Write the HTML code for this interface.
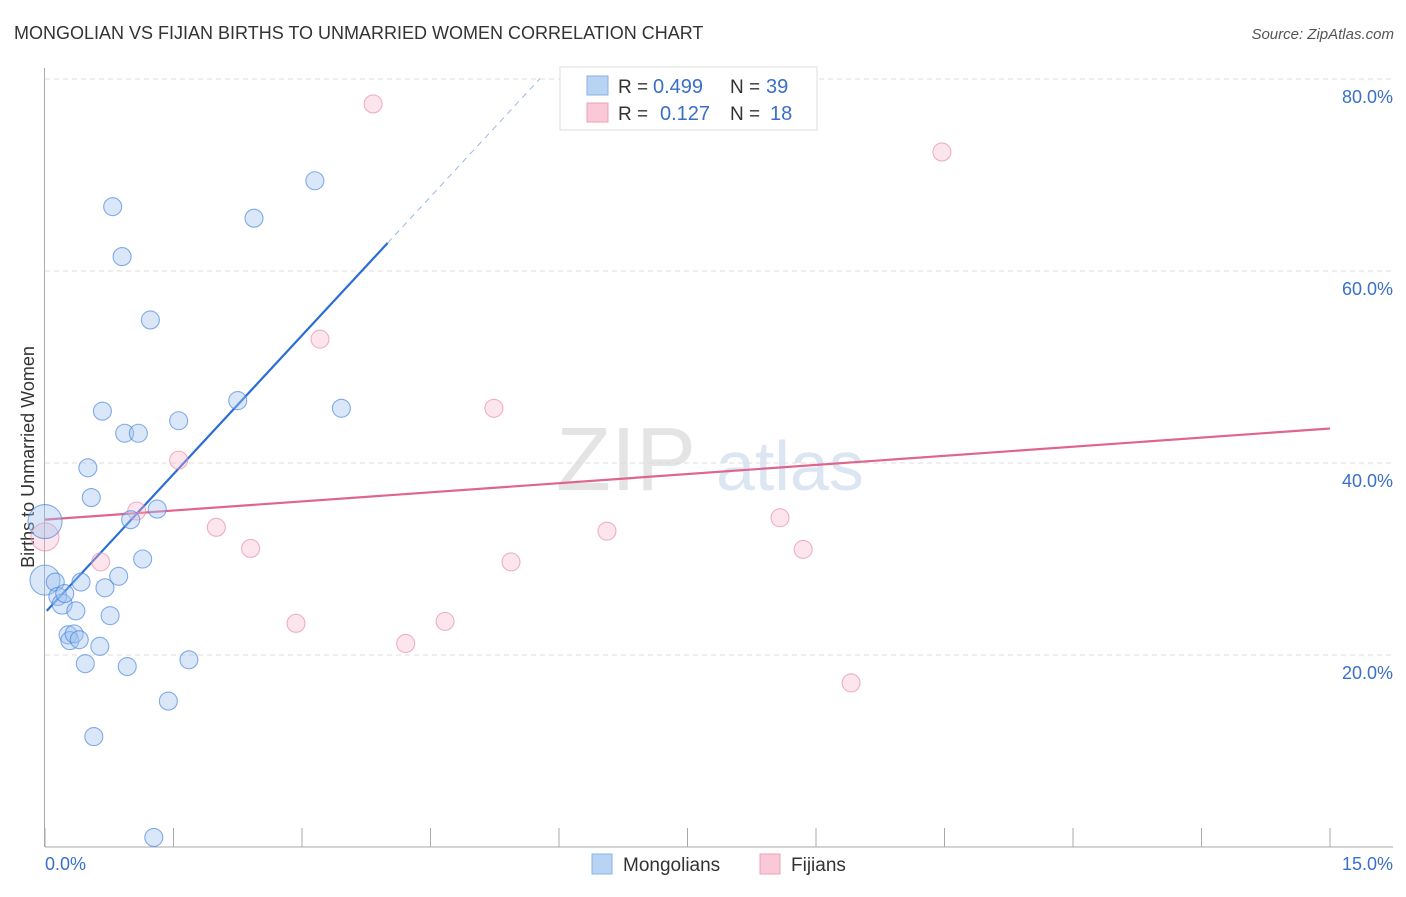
<!DOCTYPE html>
<html><head><meta charset="utf-8"><style>
body{margin:0;background:#fff;font-family:"Liberation Sans",sans-serif}
svg text{font-family:"Liberation Sans",sans-serif}
</style></head><body>
<svg width="1406" height="892">
<text x="14" y="39" font-size="18" fill="#333">MONGOLIAN VS FIJIAN BIRTHS TO UNMARRIED WOMEN CORRELATION CHART</text>
<text x="1394" y="39" font-size="15" fill="#555" font-style="italic" text-anchor="end">Source: ZipAtlas.com</text>
<text x="556" y="490" font-size="90" fill="#e4e4e4" font-family="Liberation Serif">ZIP</text>
<text x="716" y="490" font-size="70" fill="#dce6f3">atlas</text>
<g id="grid"></g>
<g id="axes"></g>
<text transform="translate(34,457) rotate(-90)" font-size="18" fill="#333" text-anchor="middle">Births to Unmarried Women</text>
<g id="trend"></g>
<g id="points"></g>
<g>
<rect x="560" y="67" width="257" height="63" fill="#fff" stroke="#ddd"/>
<rect x="587" y="76" width="21" height="19" fill="#b9d3f5" stroke="#8ab0e6"/>
<rect x="587" y="103" width="21" height="19" fill="#f9c9d7" stroke="#efa0b8"/>
<text x="618" y="93" font-size="19" fill="#333">R =</text>
<text x="653" y="93" font-size="20" fill="#3a6fc9">0.499</text>
<text x="730" y="93" font-size="19" fill="#333">N =</text>
<text x="766" y="93" font-size="20" fill="#3a6fc9">39</text>
<text x="618" y="120" font-size="19" fill="#333">R =</text>
<text x="660" y="120" font-size="20" fill="#3a6fc9">0.127</text>
<text x="730" y="120" font-size="19" fill="#333">N =</text>
<text x="770" y="120" font-size="20" fill="#3a6fc9">18</text>
</g>
<g>
<rect x="592" y="854" width="20" height="20" fill="#b9d3f5" stroke="#8ab0e6"/>
<text x="623" y="871" font-size="19" fill="#333">Mongolians</text>
<rect x="760" y="854" width="20" height="20" fill="#f9c9d7" stroke="#efa0b8"/>
<text x="791" y="871" font-size="19" fill="#333">Fijians</text>
</g>
<text x="45" y="870" font-size="18" fill="#3a6fc9">0.0%</text>
<text x="1393" y="870" font-size="18" fill="#3a6fc9" text-anchor="end">15.0%</text>
</svg>
<script>
const yTicks=[20,40,60,80];
const yTickLabels=["20.0%","40.0%","60.0%","80.0%"];
const xTicks=[0,1.5,3,4.5,6,7.5,9,10.5,12,13.5,15];
const blueX=[0,0,0.12,0.15,0.2,0.23,0.27,0.29,0.34,0.4,0.36,0.42,0.47,0.5,0.54,0.57,0.64,0.67,0.7,0.76,0.79,0.86,0.9,0.93,0.96,1.0,1.09,1.14,1.23,1.27,1.31,1.44,1.56,1.68,2.25,2.44,3.15,3.46];
const blueY=[27.8,33.9,27.6,26.1,25.3,26.4,22.1,21.5,22.2,21.6,24.6,27.6,19.1,39.5,36.4,11.5,20.9,45.4,27.0,24.1,66.7,28.2,61.5,43.1,18.8,34.1,43.1,30.0,54.9,1.0,35.2,15.2,44.4,19.5,46.5,65.5,69.4,45.7];
const blueR=[15,17,9,9,10,9,9,9,9,9,9,9,9,9,9,9,9,9,9,9,9,9,9,9,9,9,9,9,9,9,9,9,9,9,9,9,9,9];
const pinkX=[0,0.65,1.07,1.56,2.0,2.4,2.93,3.21,3.83,4.21,4.67,5.24,5.44,6.56,8.58,8.85,9.41,10.47];
const pinkY=[32.3,29.7,35.0,40.3,33.3,31.1,23.3,52.9,77.4,21.2,23.5,45.7,29.7,32.9,34.3,31.0,17.1,72.4];
const pinkR=[14,9,9,9,9,9,9,9,9,9,9,9,9,9,9,9,9,9];
const blueTrend=[24.4,9.63];
const pinkTrend=[34.1,0.633];
const NS="http://www.w3.org/2000/svg";
const X=v=>45+v/15*1285, Y=v=>847-v*9.6;
function mk(t,a,p){const e=document.createElementNS(NS,t);for(const k in a)e.setAttribute(k,a[k]);p.appendChild(e);return e;}
const grid=document.getElementById('grid'),axes=document.getElementById('axes'),trend=document.getElementById('trend'),pts=document.getElementById('points');
yTicks.forEach((t,i)=>{
 const l=mk('line',{x1:45,x2:1393,y1:Y(t),y2:Y(t),stroke:'#ddd','stroke-dasharray':'5,4'},grid);
 
 
 const tx=mk('text',{x:1393,y:Y(t)+24,'font-size':18,fill:'#3a6fc9','text-anchor':'end'},grid);
 tx.textContent=yTickLabels[i];
 
 
});
const ya=mk('line',{x1:44.5,x2:44.5,y1:68,y2:847,stroke:'#aaa'},axes);


const xa=mk('line',{x1:45,x2:1393,y1:847,y2:847,stroke:'#aaa'},axes);


xTicks.forEach(t=>{
 const l=mk('line',{x1:X(t),x2:X(t),y1:828,y2:847,stroke:'#aaa'},axes);
 
 
});
function dots(xs,ys,rs,fill,stroke,name){
 xs.forEach((x,i)=>{
  const c=mk('circle',{cx:X(x),cy:Y(ys[i]),r:rs[i],fill:fill,stroke:stroke,'stroke-width':1.1},pts);
  
  
 });
}
dots(pinkX,pinkY,pinkR,'rgba(246,180,200,0.35)','rgba(230,130,160,0.6)','fijian-point');
dots(blueX,blueY,blueR,'rgba(160,195,240,0.4)','rgba(70,130,220,0.65)','mongolian-point');
const bt1=mk('line',{x1:X(0.02),y1:Y(blueTrend[0]+blueTrend[1]*0.02),x2:X(4.0),y2:Y(blueTrend[0]+blueTrend[1]*4.0),stroke:'#2a6dd6','stroke-width':2.2},trend);


const bt2=mk('line',{x1:X(4.0),y1:Y(blueTrend[0]+blueTrend[1]*4.0),x2:X(5.78),y2:Y(blueTrend[0]+blueTrend[1]*5.78),stroke:'#9ab8e6','stroke-width':1,'stroke-dasharray':'6,5'},trend);


const pt=mk('line',{x1:X(0),y1:Y(pinkTrend[0]),x2:X(15),y2:Y(pinkTrend[0]+pinkTrend[1]*15),stroke:'#e0658e','stroke-width':2.2},trend);


</script>
</body></html>
